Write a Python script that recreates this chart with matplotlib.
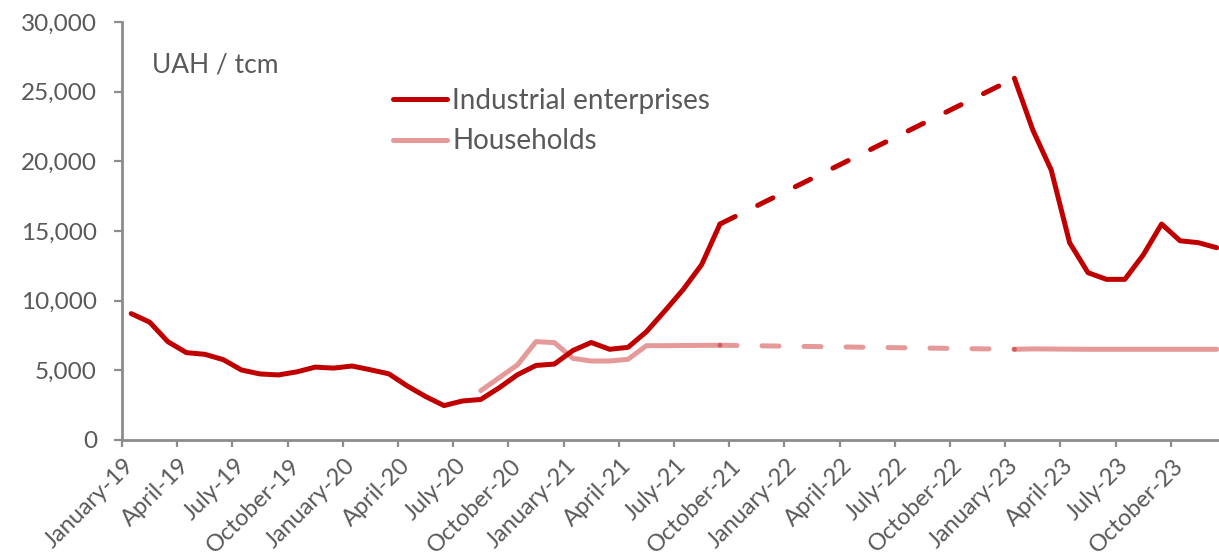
import numpy as np
import matplotlib
matplotlib.use("Agg")
import matplotlib.pyplot as plt
import matplotlib.ticker as mtick

# monthly gas prices, January 2019 .. December 2023 (NaN = no monthly data)
month_names = ["January", "February", "March", "April", "May", "June", "July",
               "August", "September", "October", "November", "December"]
years = ["19", "20", "21", "22", "23"]
months = [f"{m}-{y}" for y in years for m in month_names]

nan = np.nan
industrial = [9070, 8460, 7050, 6270, 6150, 5770, 5020, 4740, 4670, 4890, 5230, 5160,
              5310, 5040, 4750, 3880, 3120, 2470, 2800, 2910, 3750, 4690, 5350, 5450,
              6420, 7000, 6510, 6650, 7770, 9260, 10800, 12580, 15500,
              nan, nan, nan, nan, nan, nan, nan, nan, nan, nan, nan, nan, nan, nan, nan,
              25960, 22250, 19380, 14160, 12010, 11530, 11530, 13280, 15500, 14300, 14160, 13800]
households = [nan, nan, nan, nan, nan, nan, nan, nan, nan, nan, nan, nan,
              nan, nan, nan, nan, nan, nan, nan, 3540, 4470, 5400, 7060, 6990,
              5860, 5670, 5670, 5790, 6770, 6770, 6780, 6790, 6800,
              nan, nan, nan, nan, nan, nan, nan, nan, nan, nan, nan, nan, nan, nan, nan,
              6510, 6540, 6530, 6520, 6510, 6510, 6510, 6510, 6510, 6510, 6510, 6510]

series_names = ["Industrial enterprises", "Households"]
unit_label = "UAH / tcm"

# months where the monthly series breaks off and resumes
gap_start = 32
gap_end = 48

text_color = "#595959"
axis_color = "#8c8c8c"
dark_red = "#C00000"

plt.rcParams["font.family"] = ["Lato", "DejaVu Sans"]

fig = plt.figure(figsize=(12.19, 5.58), dpi=100)
# each month takes one slot, points sit in the middle of their slot
ax = fig.add_axes([122 / 1219, 118 / 558, 1104 / 1219, 418 / 558])

x = np.arange(len(months)) + 0.5
ind = np.array(industrial, dtype=float)
hh = np.array(households, dtype=float)

line_kw = dict(solid_capstyle="round", solid_joinstyle="round",
               dash_capstyle="round")
ind_kw = dict(color=dark_red, lw=3.6, **line_kw)
hh_kw = dict(color=dark_red, alpha=0.4, lw=3.6, **line_kw)

# solid monthly parts
ax.plot(x[:gap_start + 1], ind[:gap_start + 1], label=series_names[0], **ind_kw)
ax.plot(x[gap_end:], ind[gap_end:], **ind_kw)
ax.plot(x[:gap_start + 1], hh[:gap_start + 1], label=series_names[1], **hh_kw)
ax.plot(x[gap_end:], hh[gap_end:], **hh_kw)

# dashed bridge across the months without data
bridge = [gap_start, gap_end]
ax.plot(x[bridge], ind[bridge], dashes=(3.4, 5.0), **ind_kw)
ax.plot(x[bridge], hh[bridge], dashes=(3.4, 5.0), **hh_kw)

ax.set_xlim(0, len(months))
ax.set_ylim(0, 30000)

# quarter boundaries get tick marks, labels sit at the first month of the quarter
ax.set_xticks(np.arange(0, len(months), 3))
ax.set_xticklabels([])
ax.set_xticks(x[::3], minor=True)
ax.set_xticklabels(months[::3], minor=True, rotation=45, ha="right", va="center",
                   rotation_mode="anchor", fontsize=17, color=text_color)
ax.tick_params(axis="x", which="major", length=5, width=1.6, color=axis_color)
ax.tick_params(axis="x", which="minor", length=0, pad=16)

ax.set_yticks(np.arange(0, 30001, 5000))
ax.yaxis.set_major_formatter(mtick.StrMethodFormatter("{x:,.0f}"))
ax.tick_params(axis="y", length=6, width=1.6, color=axis_color, pad=12,
               labelsize=17.5, labelcolor=text_color)

for side in ["top", "right"]:
    ax.spines[side].set_visible(False)
for side in ["left", "bottom"]:
    ax.spines[side].set_color(axis_color)
    ax.spines[side].set_linewidth(2)

ax.text(0.027, 0.897, unit_label, transform=ax.transAxes, fontsize=19,
        color=text_color, va="center", ha="left")

leg = ax.legend(loc="upper left", bbox_to_anchor=(393 / 1219, 1 - 88 / 558),
                bbox_transform=fig.transFigure, frameon=False, fontsize=20,
                handlelength=1.95, handletextpad=0.18, labelspacing=0.52,
                borderpad=0, borderaxespad=0)
for t in leg.get_texts():
    t.set_color(text_color)

plt.savefig("out.png", dpi=100)
